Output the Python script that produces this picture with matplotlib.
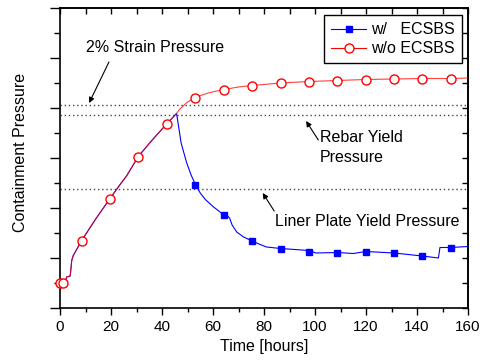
import matplotlib
matplotlib.use("Agg")
import matplotlib.pyplot as plt
from matplotlib.ticker import MultipleLocator, NullFormatter

plt.rcParams['font.family'] = ['Liberation Sans', 'DejaVu Sans']

# Detailed pressure histories (arbitrary pressure units)
t_common = [0, 2.0, 2.6, 4.0, 4.6, 5.2, 8.5, 14.0, 19.6, 24.0, 26.1, 30.7, 36.0, 41.8, 45.7]
p_common = [0.51, 0.51, 0.62, 0.64, 0.95, 1.05, 1.35, 1.78, 2.19, 2.50, 2.64, 3.03, 3.35, 3.68, 3.89]

t_without = [47.0, 50.0, 53.1, 58.0, 64.2, 70.0, 75.4, 86.5, 97.6, 108.8, 119.9, 131.0, 142.1, 153.2, 160.0]
p_without = [3.98, 4.12, 4.21, 4.30, 4.37, 4.42, 4.45, 4.50, 4.53, 4.55, 4.57, 4.58, 4.59, 4.59, 4.60]

t_with = [46.3, 47.5, 49.7, 51.5, 53.1, 55.0, 57.0, 60.0, 62.5, 64.2, 65.5, 66.5, 67.5, 69.3,
          72.0, 75.4, 78.0, 81.0, 86.5, 97.6, 100.4, 108.8, 115.0, 119.9, 131.0, 142.1, 148.4,
          149.0, 153.2, 160.0]
p_with = [3.70, 3.30, 2.90, 2.65, 2.47, 2.30, 2.17, 2.03, 1.93, 1.86, 1.85, 1.80, 1.66, 1.52,
          1.42, 1.34, 1.28, 1.22, 1.19, 1.15, 1.10, 1.11, 1.09, 1.13, 1.10, 1.04, 1.00,
          1.21, 1.21, 1.23]

# Marker samples
t_mark_common = [0, 1.3, 8.5, 19.6, 30.7, 41.8]
p_mark_common = [0.51, 0.51, 1.35, 2.19, 3.03, 3.68]
t_mark = [53.1, 64.2, 75.4, 86.5, 97.6, 108.8, 119.9, 131.0, 142.1, 153.2]
p_mark_without = [4.21, 4.37, 4.45, 4.50, 4.53, 4.55, 4.57, 4.58, 4.59, 4.59]
p_mark_with = [2.47, 1.86, 1.34, 1.19, 1.13, 1.11, 1.13, 1.10, 1.04, 1.21]

# Reference pressure levels
p_strain = 4.07
p_rebar = 3.86
p_liner = 2.38

fig = plt.figure(figsize=(4.83, 3.60), dpi=100)
ax = fig.add_axes([60 / 483, 52 / 360, 408 / 483, 300 / 360])

blue = '#0000ff'
red = '#ff0000'

t_w = t_common + t_with
p_w = p_common + p_with
t_wo = t_common + t_without
p_wo = p_common + p_without

ax.plot(t_w, p_w, color=blue, lw=0.8, zorder=3)
ax.plot(t_mark_common + t_mark, p_mark_common + p_mark_with, ls='none', marker='s', ms=5,
        mfc=blue, mec=blue, zorder=4, clip_on=False)
ax.plot(t_wo, p_wo, color=red, lw=0.8, alpha=0.75, zorder=5)
ax.plot(t_mark_common + t_mark, p_mark_common + p_mark_without, ls='none', marker='o', ms=6.5,
        mfc='white', mec=red, mew=1.0, zorder=6, clip_on=False)

fs = 11.5

# Legend proxies
h1, = ax.plot([], [], color=blue, lw=0.8, marker='s', ms=5, mfc=blue, mec=blue)
h2, = ax.plot([], [], color=red, lw=0.8, marker='o', ms=6.5, mfc='white', mec=red)
leg = ax.legend([h1, h2], ['w/   ECSBS', 'w/o ECSBS'], loc='upper right',
                bbox_to_anchor=(0.9853, 0.9767), fontsize=fs, frameon=True, fancybox=False,
                edgecolor='black', framealpha=1, handlelength=2.2, handletextpad=0.3,
                borderpad=0.45, labelspacing=0.25, borderaxespad=0)
leg.get_frame().set_linewidth(1.0)

for lvl in (p_strain, p_rebar, p_liner):
    ax.axhline(lvl, color='#444444', lw=1.0, ls=(0, (1, 2)), zorder=2)

arrow = dict(arrowstyle='-|>', color='black', lw=0.8, mutation_scale=8, shrinkA=0, shrinkB=0)
ax.annotate('', xy=(11.4, 4.10), xytext=(19.2, 4.92), arrowprops=arrow)
ax.text(10.2, 5.21, '2% Strain Pressure', fontsize=fs, va='center', ha='left')

ax.annotate('', xy=(96.5, 3.74), xytext=(101.3, 3.36), arrowprops=arrow)
ax.text(102.0, 3.40, 'Rebar Yield', fontsize=fs, va='center', ha='left')
ax.text(102.0, 3.00, 'Pressure', fontsize=fs, va='center', ha='left')

ax.annotate('', xy=(79.5, 2.30), xytext=(84.0, 1.94), arrowprops=arrow)
ax.text(84.5, 1.74, 'Liner Plate Yield Pressure', fontsize=fs, va='center', ha='left')

ax.set_xlim(0, 160)
ax.set_ylim(0, 6)
ax.xaxis.set_major_locator(MultipleLocator(20))
ax.xaxis.set_minor_locator(MultipleLocator(10))
ax.yaxis.set_major_locator(MultipleLocator(1))
ax.yaxis.set_minor_locator(MultipleLocator(0.5))
ax.yaxis.set_major_formatter(NullFormatter())

ax.tick_params(axis='both', which='major', direction='out', length=5, width=1.0,
               labelsize=11, colors='black')
ax.tick_params(axis='both', which='minor', direction='out', length=3, width=1.0)
ax.tick_params(axis='y', which='major', length=7)
ax.tick_params(axis='y', which='minor', length=4)

for s in ax.spines.values():
    s.set_linewidth(1.2)

# Mirrored ticks pointing inward on the top and right sides
top = ax.secondary_xaxis('top')
top.xaxis.set_major_locator(MultipleLocator(20))
top.xaxis.set_minor_locator(MultipleLocator(10))
top.tick_params(which='both', direction='in', length=4, width=1.0, labeltop=False)
right = ax.secondary_yaxis('right')
right.yaxis.set_major_locator(MultipleLocator(1))
right.yaxis.set_minor_locator(MultipleLocator(0.5))
right.tick_params(which='both', direction='in', length=4, width=1.0, labelright=False)
top.spines['top'].set_linewidth(1.2)
right.spines['right'].set_linewidth(1.2)

ax.set_xlabel('Time [hours]', fontsize=fs, labelpad=4)
ax.set_ylabel('Containment Pressure', fontsize=fs, va='center')
ax.yaxis.set_label_coords(-39 / 408, 0.52)

fig.savefig('out.png', dpi=100)
